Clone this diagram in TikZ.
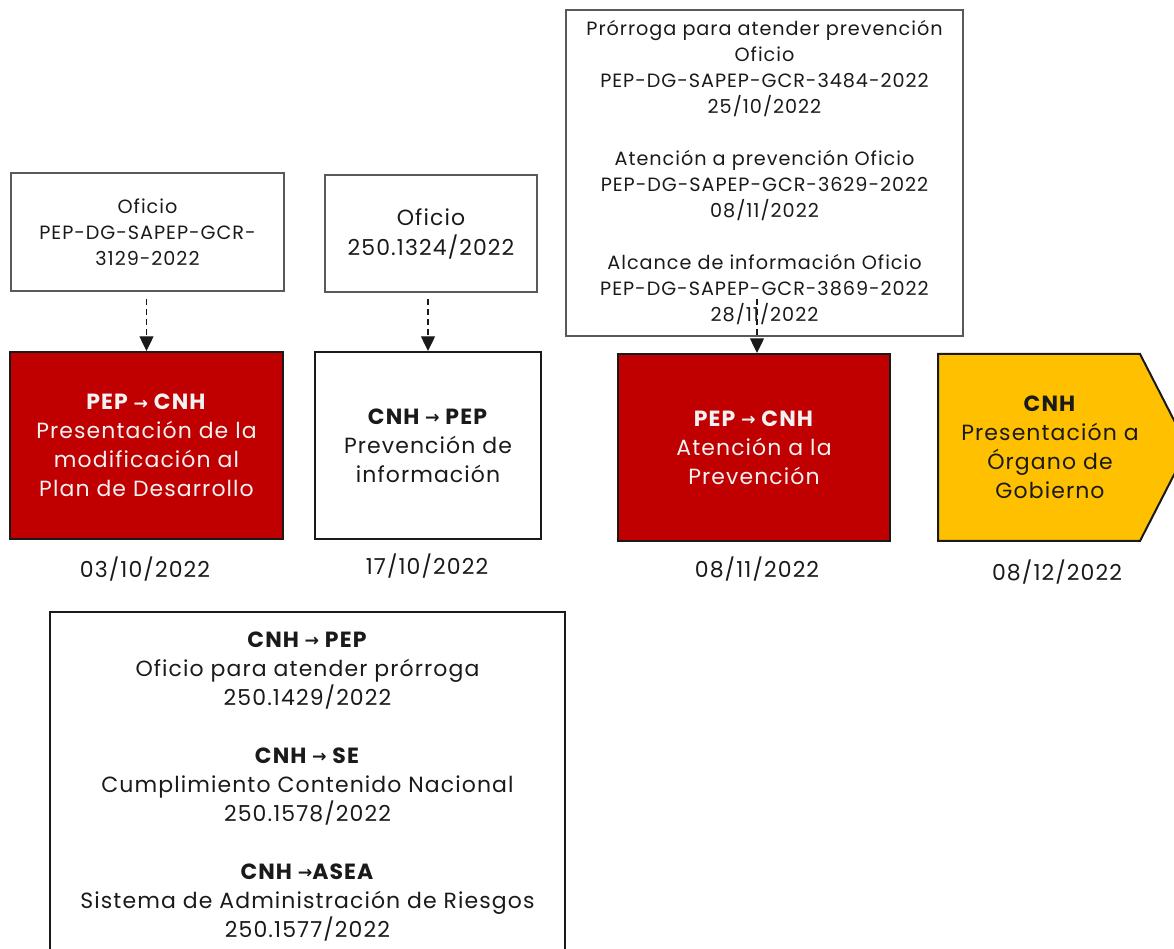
\documentclass[tikz,border=0pt]{standalone}
\usepackage{fontspec}
\setmainfont{Poppins}[LetterSpace=5,Scale=1.03]
\newfontfamily\symfont{DejaVu Sans}
\usetikzlibrary{calc,arrows.meta}
\definecolor{rojo}{HTML}{C00000}
\definecolor{oro}{HTML}{FFC000}
\definecolor{tinta}{HTML}{1A1A1A}
\definecolor{marco}{HTML}{595959}
\definecolor{claro}{HTML}{F2F2F2}
\newcommand{\flecha}{{\symfont\fontsize{13}{13}\selectfont\raisebox{0.5pt}{→}}}
\tikzset{
	etapa/.style={draw=tinta, line width=1.5pt, minimum height=140.25pt, align=center, text=tinta, inner sep=0pt, font=\fontsize{16}{21.75}\selectfont},
	oficio/.style={draw=marco, line width=1.1pt, align=center, text=tinta, inner sep=0pt, font=\fontsize{14}{19.5}\selectfont},
	fecha/.style={text=tinta, font=\fontsize{16}{20}\selectfont},
	punteada/.style={draw=tinta, line width=1pt, dash pattern=on 4.5pt off 3pt, -{Triangle[length=11pt,width=10.5pt]}},
}
\begin{document}
\begin{tikzpicture}[x=0.75pt,y=0.75pt]
	\useasboundingbox (0,0) rectangle (1174,949);
	
	\node[etapa, fill=rojo, text=claro, minimum width=204.75pt] (pres) at (146.5,503.5) {\textbf{PEP \flecha{} CNH}\\Presentación de la\\modificación al\\Plan de Desarrollo};
	\node[etapa, fill=white, minimum width=169.5pt] (prev) at (428,503.5) {\textbf{CNH \flecha{} PEP}\\Prevención de\\información};
	\node[etapa, fill=rojo, text=claro, minimum width=204pt] (aten) at (754,501.5) {\textbf{PEP \flecha{} CNH}\\Atención a la\\Prevención};
	
	%pentagono
	\draw[draw=tinta, line width=1.5pt, fill=oro] (938,595) -- (1140,595) -- (1188,501.5) -- (1140,408) -- (938,408) -- cycle;
	\node[align=center, text=tinta, font=\fontsize{16}{21.75}\selectfont] (org) at (1050,501.5) {\textbf{CNH}\\Presentación a\\Órgano de\\Gobierno};
	
	\node[fecha] (f1) at ($(pres.south)+(-1.5,-29)$) {03/10/2022};
	\node[fecha] (f2) at ($(prev.south)+(-1,-26)$) {17/10/2022};
	\node[fecha] (f3) at ($(aten.south)+(3,-27)$) {08/11/2022};
	\node[fecha] (f4) at ($(org)+(7,-124.5)$) {08/12/2022};
	
	\node[oficio, minimum width=204.75pt, minimum height=88.5pt] (ofA) at (147.5,717) {Oficio\\PEP-DG-SAPEP-GCR-\\3129-2022};
	\node[oficio, font=\fontsize{16}{22.5}\selectfont, minimum width=159pt, minimum height=87.75pt] (ofB) at (431,715.5) {Oficio\\250.1324/2022};
	\node[oficio, minimum width=297.75pt, minimum height=244.5pt] (ofC) at (764.5,776) {Prórroga para atender prevención\\Oficio\\PEP-DG-SAPEP-GCR-3484-2022\\25/10/2022\\[19.5pt]Atención a prevención Oficio\\PEP-DG-SAPEP-GCR-3629-2022\\08/11/2022\\[19.5pt]Alcance de información Oficio\\PEP-DG-SAPEP-GCR-3869-2022\\28/11/2022};
	
	\coordinate (iniA) at ($(pres.north)+(0,52)$);
	\coordinate (iniB) at ($(prev.north)+(0,52)$);
	\coordinate (iniC) at ($(aten.north)+(3,54)$);
	\draw[punteada] (iniA) -- (pres.north);
	\draw[punteada] (iniB) -- (prev.north);
	\draw[punteada] (iniC) -- ($(aten.north)+(3,0)$);
	
	\node[oficio, draw=tinta, line width=1.5pt, font=\fontsize{16}{21.75}\selectfont, minimum width=386.25pt, minimum height=261.75pt, anchor=north] (hist) at (307.5,338) {\textbf{CNH \flecha{} PEP}\\Oficio para atender prórroga\\250.1429/2022\\[21.75pt]\textbf{CNH \flecha{} SE}\\Cumplimiento Contenido Nacional\\250.1578/2022\\[21.75pt]\textbf{CNH \flecha{}ASEA}\\Sistema de Administración de Riesgos\\250.1577/2022};
\end{tikzpicture}
\end{document}
